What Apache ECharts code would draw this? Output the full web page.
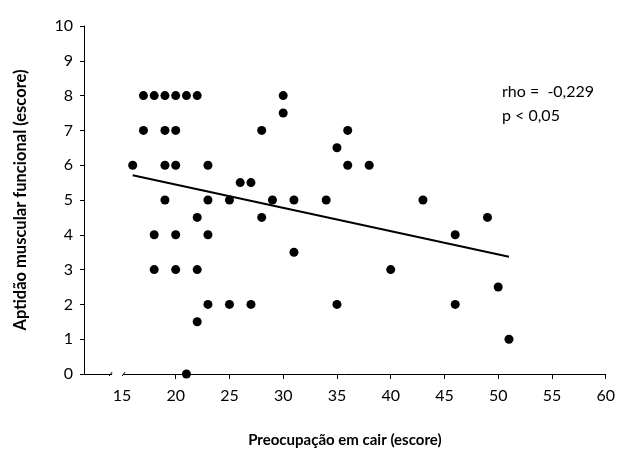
<!DOCTYPE html>
<html>
<head>
<meta charset="utf-8">
<script src="https://cdn.jsdelivr.net/npm/echarts@6/dist/echarts.min.js"></script>
<style>
html,body{margin:0;padding:0;background:#fff;}
#c{width:618px;height:453px;}
</style>
</head>
<body>
<div id="c"></div>
<script>
// Data
var xValues = [16,17,18,19,20,21,22,17,19,20,28,36,19,20,23,36,38,30,30,26,27,35,43,34,19,23,25,29,31,22,28,49,18,20,23,46,31,18,20,22,40,23,25,27,35,46,50,22,21,51];
var yValues = [6,8,8,8,8,8,8,7,7,7,7,7,6,6,6,6,6,8,7.5,5.5,5.5,6.5,5,5,5,5,5,5,5,4.5,4.5,4.5,4,4,4,4,3.5,3,3,3,3,2,2,2,2,2,2.5,1.5,0,1];
var trendX = [16, 51];
var trendY = [5.71, 3.37];
var xTickLabels = [15,20,25,30,35,40,45,50,55,60];
var xTicks = [20,25,30,35,40,45,50,55,60];
var annotation = ['rho =  -0,229', 'p < 0,05'];
var xTitle = 'Preocupação em cair (escore)';
var yTitle = 'Aptidão muscular funcional (escore)';

var FONT = 'Lato';
var chart = echarts.init(document.getElementById('c'));
var points = xValues.map(function(x, i){ return [x, yValues[i]]; });
var trend = trendX.map(function(x, i){ return [x, trendY[i]]; });

chart.setOption({
  animation: false,
  backgroundColor: '#fff',
  grid: {left: 84, right: 9, top: 26, bottom: 79},
  xAxis: {
    type: 'value', min: 11.47, max: 60,
    splitLine: {show: false},
    axisLine: {lineStyle: {color: '#000', width: 1}},
    axisTick: {show: true, length: 5, lineStyle: {color: '#000'}, customValues: xTicks},
    axisLabel: {color: '#000', fontSize: 16, fontFamily: FONT, margin: 14, customValues: xTickLabels},
    name: xTitle, nameLocation: 'middle', nameGap: 59,
    nameTextStyle: {color: '#000', fontSize: 15, fontWeight: 'bold', fontFamily: FONT}
  },
  yAxis: {
    type: 'value', min: 0, max: 10, interval: 1,
    splitLine: {show: false},
    axisLine: {show: true, lineStyle: {color: '#000', width: 1}},
    axisTick: {show: true, length: 4, lineStyle: {color: '#000'}},
    axisLabel: {color: '#000', fontSize: 16, fontFamily: FONT, margin: 11},
    name: yTitle, nameLocation: 'middle', nameGap: 55,
    nameTextStyle: {color: '#000', fontSize: 16.5, fontWeight: 'bold', fontFamily: FONT}
  },
  series: [
    {type: 'line', data: trend, symbol: 'none', lineStyle: {color: '#000', width: 2}, z: 2},
    {type: 'scatter', data: points, symbol: 'circle', symbolSize: 9, itemStyle: {color: '#000', opacity: 1}, z: 3}
  ]
});

// axis break and annotation
var a = chart.convertToPixel({gridIndex: 0}, [14.0, 0]);
var b = chart.convertToPixel({gridIndex: 0}, [15.2, 0]);
chart.setOption({
  graphic: [
    {type: 'rect', shape: {x: a[0] + 1, y: a[1] - 3, width: b[0] - a[0] - 2, height: 6}, style: {fill: '#fff'}, z: 100},
    {type: 'line', shape: {x1: a[0] - 2, y1: a[1] + 2, x2: a[0] + 1, y2: a[1] - 2}, style: {stroke: '#000', lineWidth: 1}, z: 101},
    {type: 'line', shape: {x1: b[0] - 2, y1: b[1] + 2, x2: b[0] + 1, y2: b[1] - 2}, style: {stroke: '#000', lineWidth: 1}, z: 101},
    {type: 'text', left: 502, top: 80, style: {text: annotation.join('\n'), font: '16px ' + FONT, lineHeight: 24, fill: '#000'}, z: 101}
  ]
});
</script>
</body>
</html>
